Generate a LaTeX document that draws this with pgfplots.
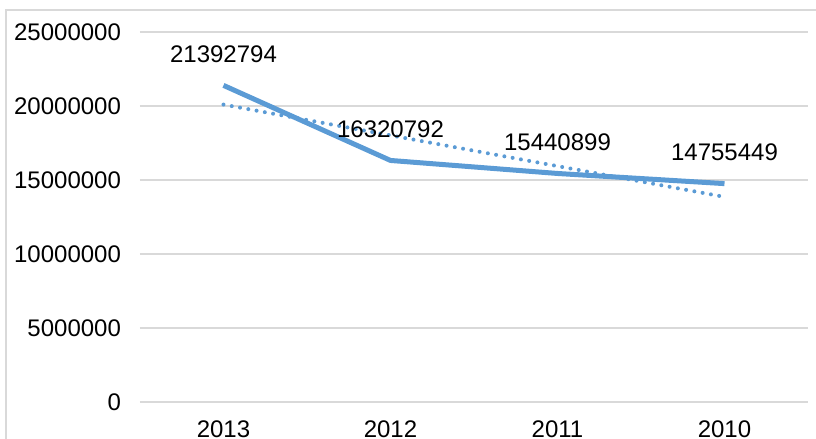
\documentclass[border=0pt]{standalone}
\usepackage{fontspec}
\setmainfont{Liberation Sans}
\usepackage{pgfplots}
\pgfplotsset{compat=1.18}
\definecolor{lineblue}{HTML}{5B9BD5}
\definecolor{gridgray}{HTML}{D9D9D9}
\begin{document}
\begin{tikzpicture}
\path[use as bounding box] (0,0) rectangle (408pt,219.5pt);
\draw[gridgray, line width=0.6pt] (3pt,0) -- (3pt,214.5pt) -- (410pt,214.5pt);
\begin{axis}[
  at={(70pt,18.5pt)}, anchor=south west, scale only axis,
  width=334pt, height=185pt,
  xmin=0.5, xmax=4.5, ymin=0, ymax=25000000,
  axis line style={draw=none}, tick style={draw=none},
  major tick length=0pt,
  ymajorgrids, grid style={gridgray, line width=0.7pt},
  xtick={1,2,3,4}, xticklabels={2013,2012,2011,2010},
  ytick={0,5000000,10000000,15000000,20000000,25000000},
  scaled y ticks=false,
  yticklabel={\pgfmathprintnumber[fixed,precision=0,1000 sep={}]{\tick}},
  /pgf/number format/assume math mode=true,
  tick label style={font=\fontsize{12}{14}\selectfont, text=black},
  yticklabel style={anchor=east, xshift=-6pt},
  xticklabel style={anchor=north, yshift=-6pt},
  clip=false,
]
\addplot[lineblue, line width=2pt, dash pattern=on 0pt off 4.2pt, line cap=round]
  coordinates {(1,20096273) (4,13858694)};
\addplot[lineblue, line width=2.5pt, line join=round,
  point meta=explicit symbolic, nodes near coords,
  every node near coord/.append style={font=\fontsize{12}{14}\selectfont, text=black, anchor=south, inner sep=0pt, yshift=10pt}]
  coordinates {(1,21392794) [21392794] (2,16320792) [16320792] (3,15440899) [15440899] (4,14755449) [14755449]};
\end{axis}
\end{tikzpicture}
\end{document}
